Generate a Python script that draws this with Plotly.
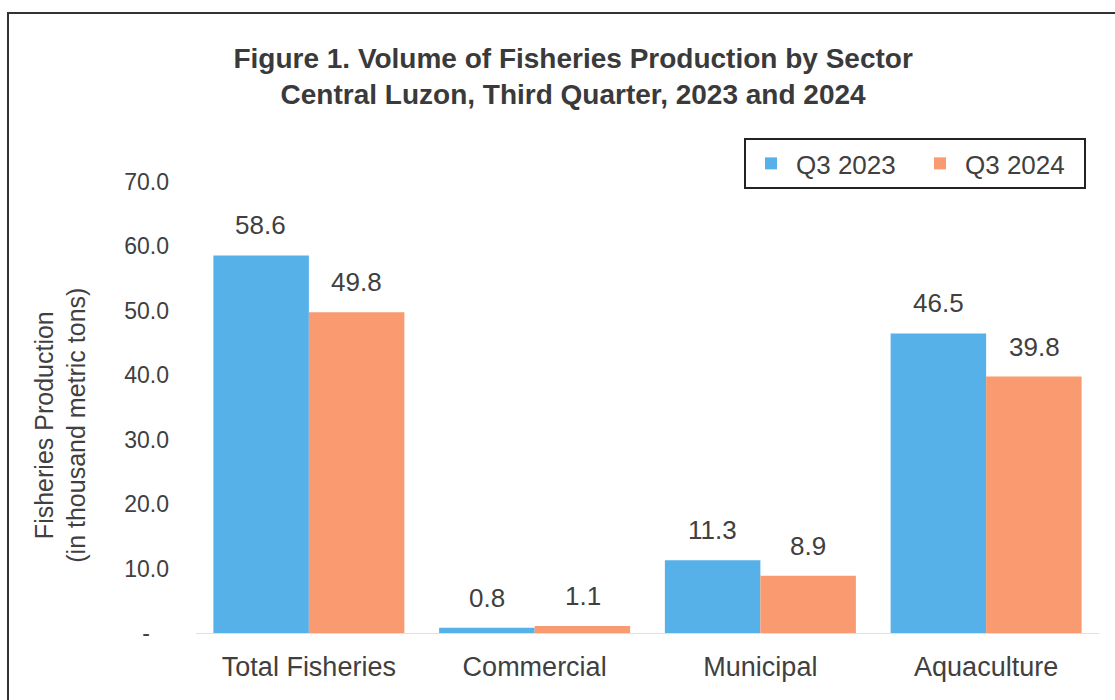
import plotly.graph_objects as go

categories = ["Total Fisheries", "Commercial", "Municipal", "Aquaculture"]
q3_2023 = [58.6, 0.8, 11.3, 46.5]
q3_2024 = [49.8, 1.1, 8.9, 39.8]
series_names = ["Q3 2023", "Q3 2024"]
tick_values = [0, 10, 20, 30, 40, 50, 60, 70]
tick_labels = ["-\u00a0\u00a0\u00a0", "10.0", "20.0", "30.0", "40.0", "50.0", "60.0", "70.0"]

BLUE = "#55B1E7"
ORANGE = "#F99A70"
TXT = "#404040"
FONT = "Liberation Sans, Arial, sans-serif"

fig = go.Figure()
for name, vals, col in [(series_names[0], q3_2023, BLUE), (series_names[1], q3_2024, ORANGE)]:
    fig.add_trace(go.Bar(x=categories, y=vals, name=name, marker=dict(color=col, line=dict(width=0))))

# data labels
for vals, shift in [(q3_2023, -48), (q3_2024, 48)]:
    for c, v in zip(categories, vals):
        fig.add_annotation(x=c, y=v, xref="x", yref="y", text=f"{v:.1f}", showarrow=False,
                           xshift=shift, yshift=13, yanchor="bottom",
                           font=dict(size=26, color=TXT, family=FONT))

# y axis title
fig.add_annotation(x=-0.151, y=0.461, xref="paper", yref="paper",
                   text="Fisheries Production<br>(in thousand metric tons)",
                   textangle=-90, showarrow=False, xanchor="center", yanchor="middle",
                   font=dict(size=25, color=TXT, family=FONT))

# outer border
fig.add_shape(type="rect", xref="paper", yref="paper", x0=-0.2082, x1=1.08, y0=-0.3, y1=1.3747,
              line=dict(color="#333333", width=2), fillcolor="rgba(0,0,0,0)", layer="above")

fig.update_layout(
    width=1115, height=700,
    margin=dict(l=196, r=16, t=182, b=67),
    paper_bgcolor="white", plot_bgcolor="white",
    barmode="group", bargap=0.154, bargroupgap=0,
    font=dict(family=FONT, color=TXT),
    title=dict(text="<b>Figure 1. Volume of Fisheries Production by Sector<br>Central Luzon, Third Quarter, 2023 and 2024</b>",
               x=0.514, xref="container", xanchor="center",
               y=1 - 68 / 700, yref="container", yanchor="top",
               font=dict(size=28, color="#3a3a3a", family=FONT)),
    legend=dict(orientation="h", x=0.9856, xanchor="right", y=1.0976, yanchor="top",
                bordercolor="#222222", borderwidth=2, bgcolor="white",
                font=dict(size=26, color=TXT, family=FONT), itemwidth=40,
                entrywidth=114, traceorder="normal"),
    xaxis=dict(showline=True, linecolor="#e0e0e0", linewidth=1, ticks="", showgrid=False,
               tickfont=dict(size=27, color=TXT, family=FONT), ticklabelstandoff=10),
    yaxis=dict(range=[0, 70], tickvals=tick_values, ticktext=tick_labels, showgrid=False,
               zeroline=False, showline=False, ticks="",
               tickfont=dict(size=23, color=TXT, family=FONT), ticklabelstandoff=26),
)

fig.write_html("out.html")
